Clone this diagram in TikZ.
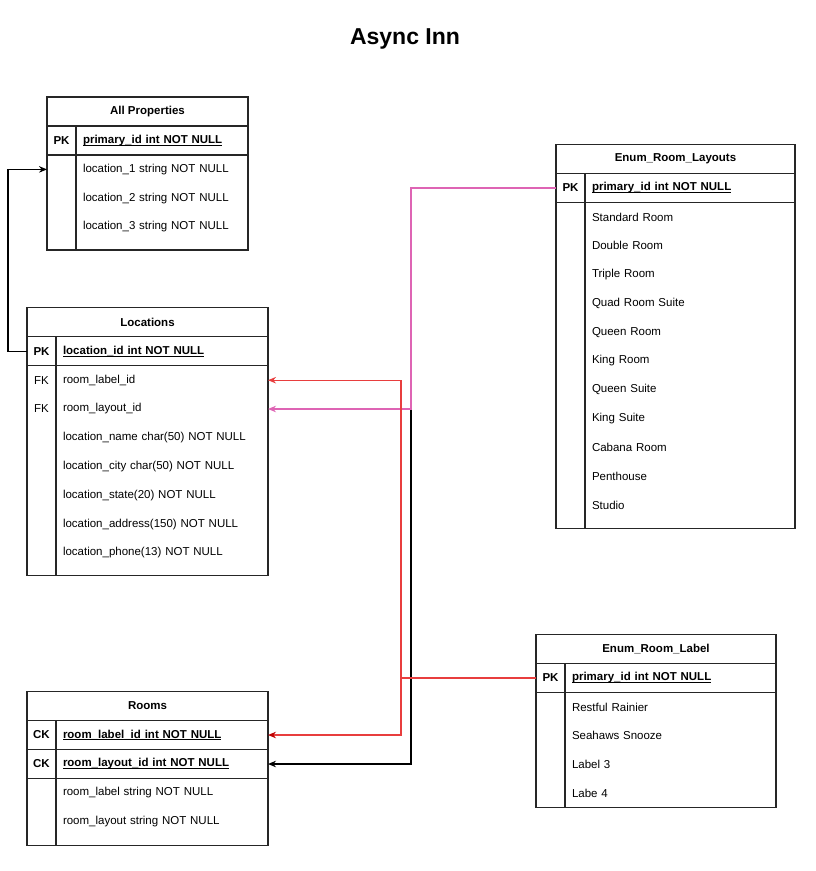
\documentclass[tikz,border=0pt]{standalone}
\usepackage{fontspec}
\setmainfont{Liberation Sans}
\usepackage{tikz}
\usetikzlibrary{arrows.meta}
\definecolor{linkpink}{RGB}{222,100,180}
\definecolor{linkred}{RGB}{232,62,62}
\definecolor{tipred}{RGB}{190,0,0}
\newcommand{\keyname}[1]{\underline{\smash{#1}}\vphantom{#1}}

\begin{document}
\begin{tikzpicture}[
    x = 1pt, y = -1pt, % one unit per pixel, y going down
    > = {Stealth[length=8pt, width=6.5pt]}, % arrow head style
    font = \fontsize{11.5}{13}\selectfont,
    every node/.style = {outer sep = 0pt}, % cells sit edge to edge
    line width = 1.2pt % line style
]

\tikzstyle{table head}=[
    draw = black!85,
    line width = 1.1pt,
    minimum height = 29pt,
    inner sep = 0pt,
    font = \fontsize{11.5}{13}\selectfont\bfseries
]
\tikzstyle{key cell}=[table head, minimum width = 29pt, anchor = north west]
\tikzstyle{key field}=[table head, anchor = north west, inner xsep = 7pt, align = left]
\tikzstyle{key column}=[draw = black!85, line width = 1.1pt, minimum width = 29pt, inner sep = 0pt, anchor = north west]
\tikzstyle{field}=[anchor = north west, minimum height = 28.8pt, inner xsep = 7pt, inner ysep = 0pt, align = left]

\useasboundingbox (0,0) rectangle (815,871);

\node[font = \fontsize{23}{27}\selectfont\bfseries] (title) at (405,38.5) {Async Inn};

% All Properties
\node[table head, minimum width = 201pt] (All Properties) at (147.5,111.5) {All Properties};
\node[key cell] (All Properties PK) at (All Properties.south west) {PK};
\node[key field, text width = 158pt] (All Properties id) at (All Properties PK.north east) {\keyname{primary\_id int NOT NULL}};
\node[key column, minimum height = 95pt] (All Properties keys) at (All Properties PK.south west) {};
\draw[draw = black!85, line width = 1.1pt] (All Properties keys.north east) rectangle (All Properties keys.south -| All Properties.east);
\node[field, text width = 158pt] (location 1) at (All Properties id.south west) {location\_1 string NOT NULL};
\node[field, text width = 158pt] (location 2) at (location 1.south west) {location\_2 string NOT NULL};
\node[field, text width = 158pt] (location 3) at (location 2.south west) {location\_3 string NOT NULL};

% Locations
\node[table head, minimum width = 241pt] (Locations) at (147.5,322.3) {Locations};
\node[key cell] (Locations PK) at (Locations.south west) {PK};
\node[key field, text width = 198pt] (location id) at (Locations PK.north east) {\keyname{location\_id int NOT NULL}};
\node[key column, minimum height = 210pt] (Locations keys) at (Locations PK.south west) {};
\draw[draw = black!85, line width = 1.1pt] (Locations keys.north east) rectangle (Locations keys.south -| Locations.east);
\node[field, text width = 198pt] (Locations room label) at (location id.south west) {room\_label\_id};
\node[field, text width = 198pt] (Locations room layout) at (Locations room label.south west) {room\_layout\_id};
\node[field, text width = 198pt] (location name) at (Locations room layout.south west) {location\_name char(50) NOT NULL};
\node[field, text width = 198pt] (location city) at (location name.south west) {location\_city char(50) NOT NULL};
\node[field, text width = 198pt] (location state) at (location city.south west) {location\_state(20) NOT NULL};
\node[field, text width = 198pt] (location address) at (location state.south west) {location\_address(150) NOT NULL};
\node[field, text width = 198pt] (location phone) at (location address.south west) {location\_phone(13) NOT NULL};
\node (label FK) at (Locations keys |- Locations room label) {FK};
\node (layout FK) at (Locations keys |- Locations room layout) {FK};

% Enum_Room_Layouts
\node[table head, minimum width = 239pt] (Room Layouts) at (675.5,159) {Enum\_Room\_Layouts};
\node[key cell] (Room Layouts PK) at (Room Layouts.south west) {PK};
\node[key field, text width = 196pt] (Room Layouts id) at (Room Layouts PK.north east) {\keyname{primary\_id int NOT NULL}};
\node[key column, minimum height = 326pt] (Room Layouts keys) at (Room Layouts PK.south west) {};
\draw[draw = black!85, line width = 1.1pt] (Room Layouts keys.north east) rectangle (Room Layouts keys.south -| Room Layouts.east);
\node[field, text width = 196pt] (standard) at (Room Layouts id.south west) {Standard Room};
\node[field, text width = 196pt] (double) at (standard.south west) {Double Room};
\node[field, text width = 196pt] (triple) at (double.south west) {Triple Room};
\node[field, text width = 196pt] (quad) at (triple.south west) {Quad Room Suite};
\node[field, text width = 196pt] (queen room) at (quad.south west) {Queen Room};
\node[field, text width = 196pt] (king room) at (queen room.south west) {King Room};
\node[field, text width = 196pt] (queen suite) at (king room.south west) {Queen Suite};
\node[field, text width = 196pt] (king suite) at (queen suite.south west) {King Suite};
\node[field, text width = 196pt] (cabana) at (king suite.south west) {Cabana Room};
\node[field, text width = 196pt] (penthouse) at (cabana.south west) {Penthouse};
\node[field, text width = 196pt] (studio) at (penthouse.south west) {Studio};

% Enum_Room_Label
\node[table head, minimum width = 240pt] (Room Label) at (656,649) {Enum\_Room\_Label};
\node[key cell] (Room Label PK) at (Room Label.south west) {PK};
\node[key field, text width = 197pt] (Room Label id) at (Room Label PK.north east) {\keyname{primary\_id int NOT NULL}};
\node[key column, minimum height = 115pt] (Room Label keys) at (Room Label PK.south west) {};
\draw[draw = black!85, line width = 1.1pt] (Room Label keys.north east) rectangle (Room Label keys.south -| Room Label.east);
\node[field, text width = 197pt] (restful) at (Room Label id.south west) {Restful Rainier};
\node[field, text width = 197pt] (seahaws) at (restful.south west) {Seahaws Snooze};
\node[field, text width = 197pt] (label 3) at (seahaws.south west) {Label 3};
\node[field, text width = 197pt] (label 4) at (label 3.south west) {Labe 4};

% Rooms
\node[table head, minimum width = 241pt] (Rooms) at (147.5,706) {Rooms};
\node[key cell] (Rooms CK label) at (Rooms.south west) {CK};
\node[key field, text width = 198pt] (Rooms room label) at (Rooms CK label.north east) {\keyname{room\_label\_id int NOT NULL}};
\node[key cell] (Rooms CK layout) at (Rooms CK label.south west) {CK};
\node[key field, text width = 198pt] (Rooms room layout) at (Rooms CK layout.north east) {\keyname{room\_layout\_id int NOT NULL}};
\node[key column, minimum height = 67pt] (Rooms keys) at (Rooms CK layout.south west) {};
\draw[draw = black!85, line width = 1.1pt] (Rooms keys.north east) rectangle (Rooms keys.south -| Rooms.east);
\node[field, text width = 198pt] (room label) at (Rooms room layout.south west) {room\_label string NOT NULL};
\node[field, text width = 198pt] (room layout) at (room label.south west) {room\_layout string NOT NULL};

% links
\draw[->] (Locations PK.west) -- ++(-19,0) |- (All Properties keys.west |- location 1);
\draw[->] (Room Layouts PK.west) -- ++(-145,0) |- (Rooms room layout.east);
\draw[->, linkpink] (Room Layouts PK.west) -- ++(-145,0) |- (Locations room layout.east);
\draw[->, linkred] (Room Label PK.west) -- ++(-135,0) |- (Locations room label.east);
\draw[-{Stealth[length=8pt, width=6.5pt, color=tipred]}, linkred] (Room Label PK.west) -- ++(-135,0) |- (Rooms room label.east);

%\draw[red, dashed] (401,0) -- (401,871);
\end{tikzpicture}
\end{document}
